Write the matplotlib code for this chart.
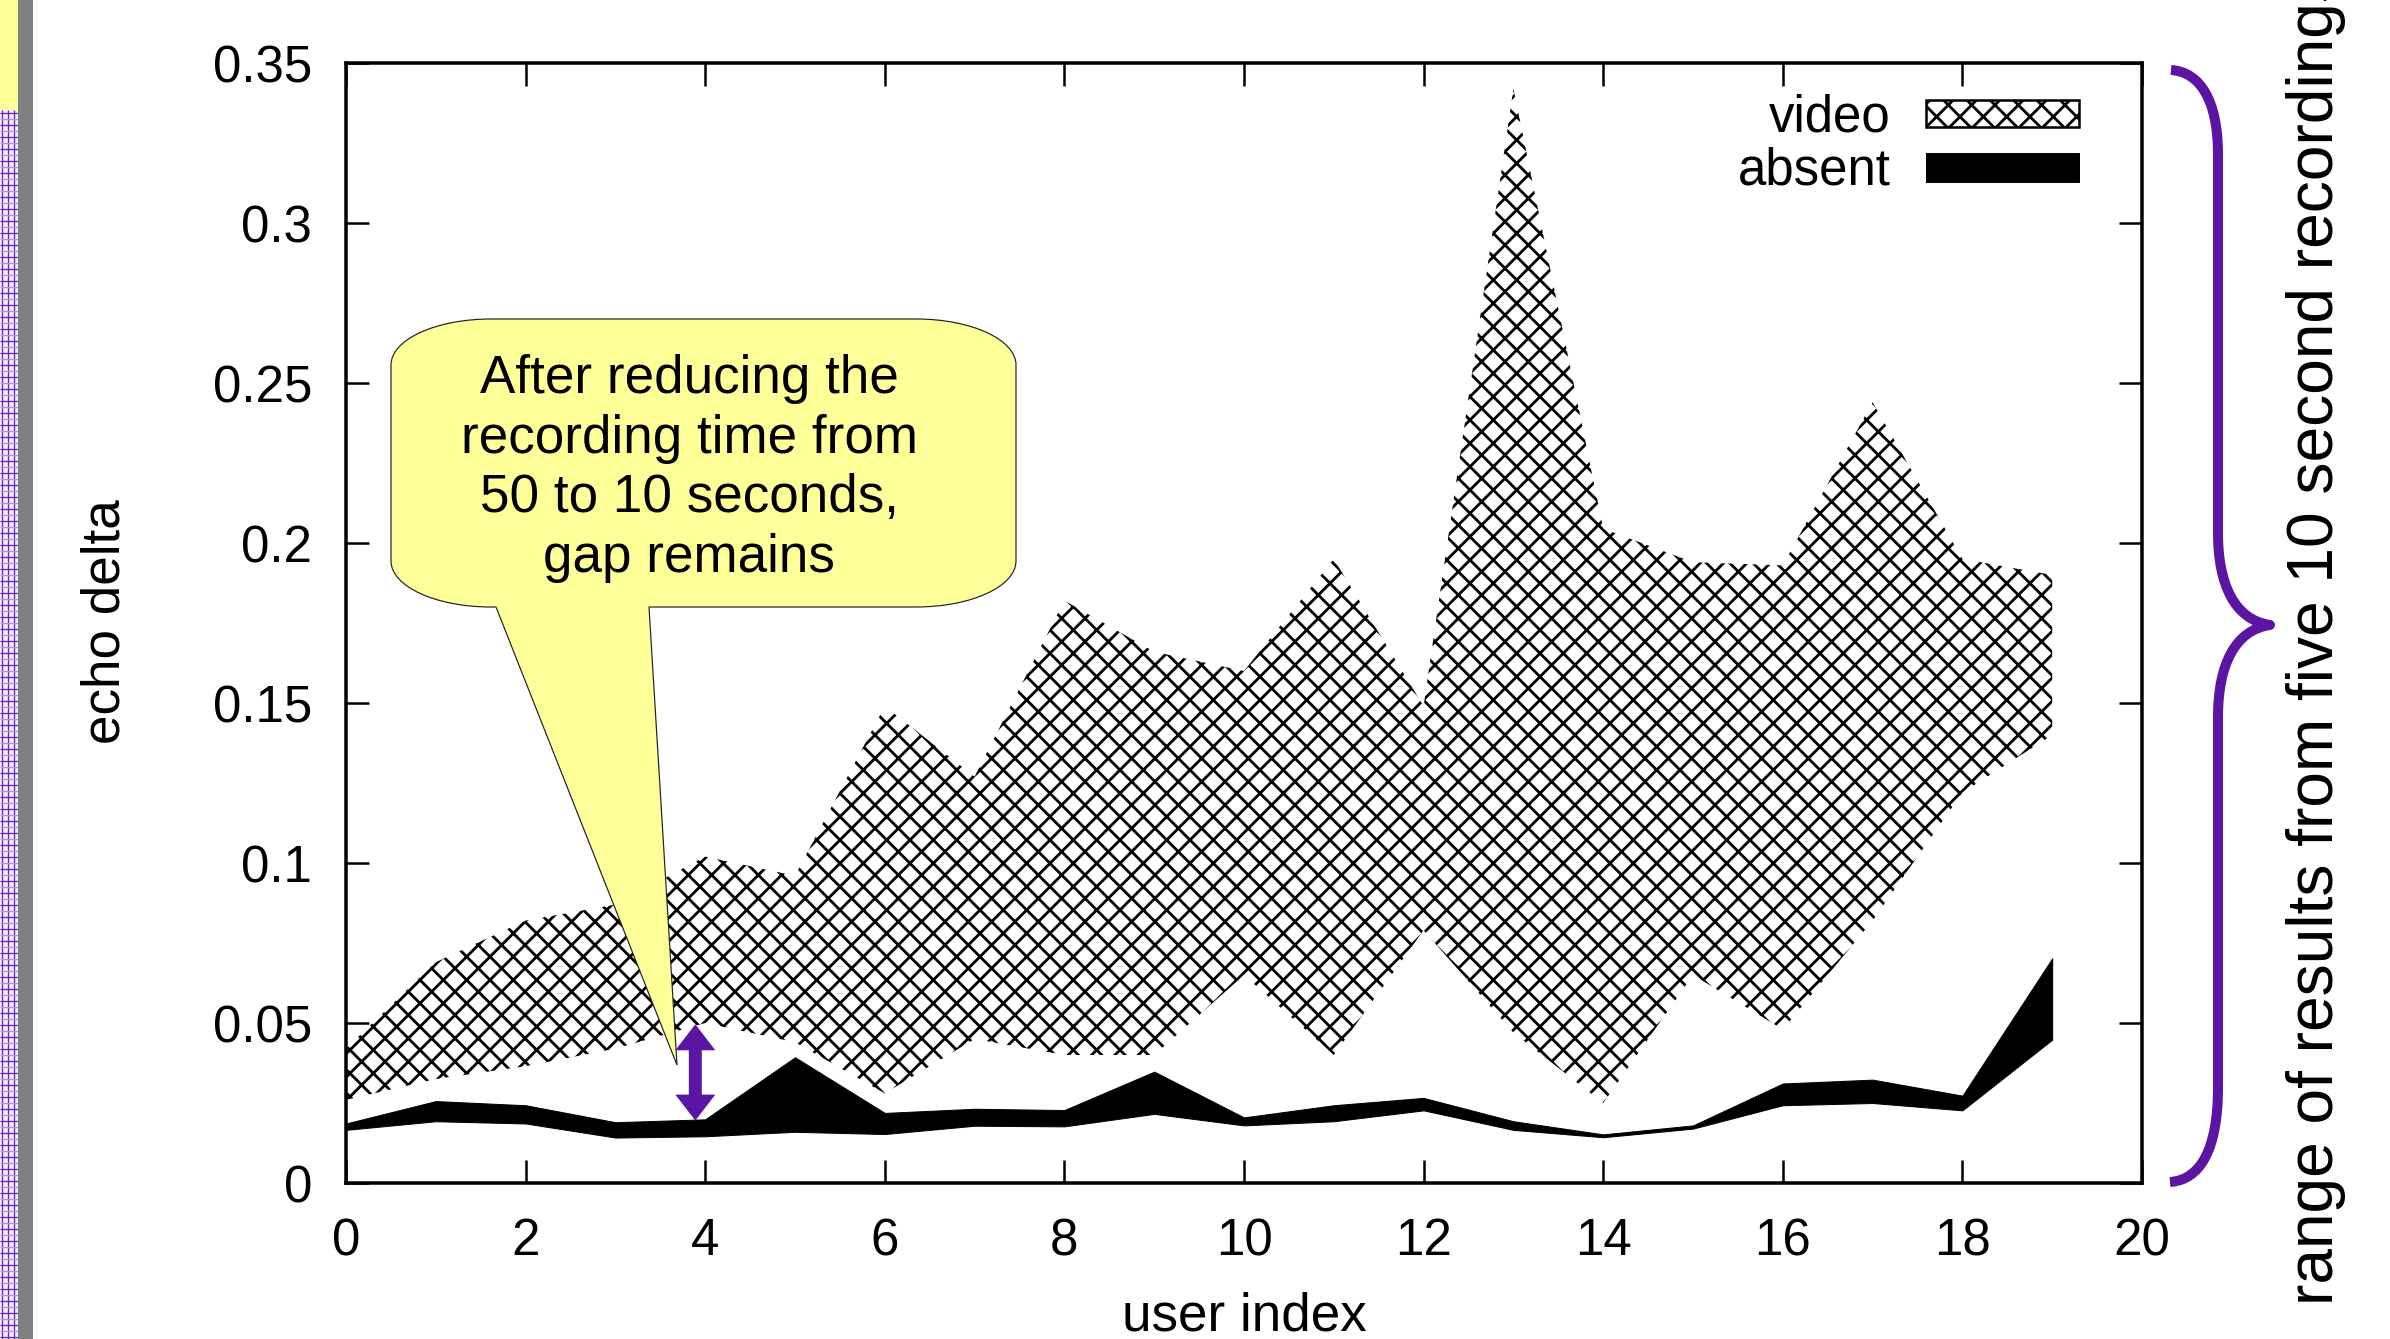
import matplotlib
matplotlib.use('Agg')
import matplotlib.pyplot as plt
from matplotlib.path import Path
from matplotlib.patches import PathPatch, Rectangle, Polygon
from matplotlib.collections import LineCollection

# ---------------- data ----------------
user_index = list(range(20))
video_low = [0.026, 0.0325, 0.0365, 0.042, 0.050, 0.044, 0.028, 0.045, 0.040, 0.040,
             0.065, 0.040, 0.079, 0.047, 0.025, 0.065, 0.048, 0.082, 0.122, 0.140]
video_high = [0.042, 0.069, 0.082, 0.087, 0.102, 0.096, 0.149, 0.127, 0.182, 0.166,
              0.160, 0.195, 0.149, 0.342, 0.2045, 0.194, 0.193, 0.244, 0.195, 0.190]
absent_low = [0.0166, 0.0193, 0.0186, 0.0142, 0.0146, 0.0160, 0.0153, 0.0179, 0.0177, 0.0216,
              0.0180, 0.0193, 0.0227, 0.0166, 0.0143, 0.0170, 0.0243, 0.0250, 0.0227, 0.0448]
absent_high = [0.0186, 0.0256, 0.0243, 0.0190, 0.0199, 0.0393, 0.0219, 0.0232, 0.0228, 0.0348,
               0.0205, 0.0243, 0.0266, 0.0193, 0.0152, 0.0180, 0.0311, 0.0323, 0.0273, 0.0702]
x_ticks = [0, 2, 4, 6, 8, 10, 12, 14, 16, 18, 20]
y_ticks = [0, 0.05, 0.10, 0.15, 0.20, 0.25, 0.30, 0.35]
y_tick_labels = ['0', '0.05', '0.1', '0.15', '0.2', '0.25', '0.3', '0.35']
series_names = ['video', 'absent']
x_label = 'user index'
y_label = 'echo delta'
callout_lines = ['After reducing the', 'recording time from', '50 to 10 seconds,', 'gap remains']
side_text = 'range of results from five 10 second recordings'
gap_x = 3.89
gap_bottom = 0.0195
gap_top = 0.0496

# ---------------- geometry helpers ----------------
W, H = 2390, 1339
DPI = 70


def P(px):
    return px * 72.0 / DPI


def fx(x):
    return x / W


def fy(y):
    return 1 - y / H


PURPLE = '#5c15a3'
YELLOW = '#ffff99'

plt.rcParams['font.family'] = ['Liberation Sans', 'DejaVu Sans']
plt.rcParams['hatch.linewidth'] = P(2.8)
plt.rcParams['hatch.color'] = 'black'

fig = plt.figure(figsize=(W / DPI, (H + 0.01) / DPI), dpi=DPI)
fig.patch.set_facecolor('white')

AX_L, AX_R, AX_T, AX_B = 346, 2142, 63, 1183
ax = fig.add_axes([fx(AX_L), fy(AX_B), (AX_R - AX_L) / W, (AX_B - AX_T) / H])

ax.fill_between(user_index, video_low, video_high, facecolor='white',
                edgecolor='black', hatch='x', linewidth=0, zorder=2)
ax.fill_between(user_index, absent_low, absent_high, facecolor='black',
                edgecolor='black', linewidth=P(1), zorder=3)

ax.set_xlim(0, 20)
ax.set_ylim(0, 0.35)
ax.set_xticks(x_ticks)
ax.set_yticks(y_ticks, labels=y_tick_labels)
ax.tick_params(direction='in', length=P(23), width=P(2.5), top=True, right=True,
               labelsize=P(51), pad=P(34), colors='black')
for s in ax.spines.values():
    s.set_linewidth(P(3.5))
    s.set_zorder(5)

# gap arrow (purple double arrow) positioned via data coords
to_px = lambda xd, yd: (AX_L + xd / 20 * (AX_R - AX_L), AX_B - yd / 0.35 * (AX_B - AX_T))
xc, ytop = to_px(gap_x, gap_top)
_, ybot = to_px(gap_x, gap_bottom)
hl, hw, sw = 26, 20, 6.5
arrow_pts = [(xc, ytop), (xc + hw, ytop + hl), (xc + sw, ytop + hl), (xc + sw, ybot - hl),
             (xc + hw, ybot - hl), (xc, ybot), (xc - hw, ybot - hl), (xc - sw, ybot - hl),
             (xc - sw, ytop + hl), (xc - hw, ytop + hl)]
fig.add_artist(Polygon([(fx(a), fy(b)) for a, b in arrow_pts], closed=True,
                       facecolor=PURPLE, edgecolor='none', zorder=6))

# ---------------- callout ----------------
L, R, T, B = 391, 1016, 319, 607
rx, ry = 100, 46
k = 0.5523
tail_l, tail_r = 496, 649
tip = (677, 1065)
verts = [
    (L + rx, T), (R - rx, T),
    (R - rx + k * rx, T), (R, T + ry - k * ry), (R, T + ry),
    (R, B - ry),
    (R, B - ry + k * ry), (R - rx + k * rx, B), (R - rx, B),
    (tail_r, B), tip, (tail_l, B),
    (L + rx, B),
    (L + rx - k * rx, B), (L, B - ry + k * ry), (L, B - ry),
    (L, T + ry),
    (L, T + ry - k * ry), (L + rx - k * rx, T), (L + rx, T),
    (L + rx, T),
]
codes = [Path.MOVETO, Path.LINETO,
         Path.CURVE4, Path.CURVE4, Path.CURVE4,
         Path.LINETO,
         Path.CURVE4, Path.CURVE4, Path.CURVE4,
         Path.LINETO, Path.LINETO, Path.LINETO,
         Path.LINETO,
         Path.CURVE4, Path.CURVE4, Path.CURVE4,
         Path.LINETO,
         Path.CURVE4, Path.CURVE4, Path.CURVE4,
         Path.CLOSEPOLY]
callout = PathPatch(Path([(fx(a), fy(b)) for a, b in verts], codes),
                    facecolor=YELLOW, edgecolor='#222222', linewidth=P(1.2), zorder=4)
fig.add_artist(callout)
for i, line in enumerate(callout_lines):
    fig.text(fx(689), fy(393 + i * 59.7), line, ha='center', va='baseline',
             fontsize=P(53), zorder=7)

# ---------------- legend ----------------
leg_x0, leg_w = 1926, 153
fig.add_artist(Rectangle((fx(leg_x0), fy(127)), leg_w / W, 27 / H, facecolor='white',
                         edgecolor='black', hatch='x', linewidth=P(2.5), zorder=6))
fig.add_artist(Rectangle((fx(leg_x0), fy(182)), leg_w / W, 29 / H, facecolor='black',
                         edgecolor='black', linewidth=P(1), zorder=6))
fig.text(fx(1891), fy(131), series_names[0], ha='right', va='baseline', fontsize=P(51))
fig.text(fx(1891), fy(184), series_names[1], ha='right', va='baseline', fontsize=P(51))

# ---------------- axis labels ----------------
fig.text(fx(119), fy(622), y_label, rotation=90, rotation_mode='anchor',
         ha='center', va='baseline', fontsize=P(53))
fig.text(fx(1244), fy(1330), x_label, ha='center', va='baseline', fontsize=P(53))

# ---------------- brace + side text ----------------
bx = 2218
bverts = [(2171, 70), (2200, 72), (bx, 100), (bx, 155),
          (bx, 533),
          (bx, 585), (2235, 620), (2270, 625),
          (2235, 630), (bx, 665), (bx, 717),
          (bx, 1087),
          (bx, 1150), (2200, 1180), (2170, 1182)]
bcodes = [Path.MOVETO, Path.CURVE4, Path.CURVE4, Path.CURVE4,
          Path.LINETO,
          Path.CURVE4, Path.CURVE4, Path.CURVE4,
          Path.CURVE4, Path.CURVE4, Path.CURVE4,
          Path.LINETO,
          Path.CURVE4, Path.CURVE4, Path.CURVE4]
brace = PathPatch(Path([(fx(a), fy(b)) for a, b in bverts], bcodes), facecolor='none',
                  edgecolor=PURPLE, linewidth=P(10), capstyle='butt', joinstyle='round')
fig.add_artist(brace)
fig.text(fx(2333), fy(1305), side_text, rotation=90, rotation_mode='anchor',
         ha='left', va='baseline', fontsize=P(64))

# ---------------- left edge decoration ----------------
fig.add_artist(Rectangle((0, 0), fx(18), 1, facecolor='#f3eff8', edgecolor='none'))
fig.add_artist(Rectangle((0, fy(110)), fx(18), 110 / H, facecolor=YELLOW, edgecolor='none', zorder=2))
fig.add_artist(Rectangle((fx(18), 0), fx(15), 1, facecolor='#808080', edgecolor='none', zorder=2))
segs, cols = [], []
for vx in (1.5, 7.5, 13.5):
    segs.append([(fx(vx), fy(110)), (fx(vx), fy(H))])
    cols.append('#6a22c4')
yy, n = 113, 0
while yy < H:
    segs.append([(0, fy(yy)), (fx(18), fy(yy))])
    cols.append('#6a22c4' if n % 2 == 0 else '#b58de3')
    yy += 6
    n += 1
fig.add_artist(LineCollection(segs, colors=cols, linewidths=P(1.3), zorder=1.5))

fig.savefig('out.png', dpi=DPI)
